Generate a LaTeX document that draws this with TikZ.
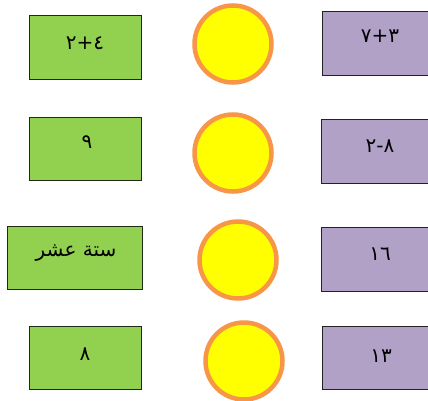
\documentclass[tikz,border=0pt]{standalone}
\usepackage{fontspec}
\newfontfamily\arabicfont[Script=Arabic]{DejaVu Sans}
\TeXXeTstate=1
\definecolor{gfill}{HTML}{92D050}
\definecolor{gdraw}{HTML}{1F2A12}
\definecolor{pfill}{HTML}{B2A1C7}
\definecolor{pdraw}{HTML}{222222}
\definecolor{sunfill}{HTML}{FFFF00}
\definecolor{sundraw}{HTML}{F79646}
\tikzset{
  greenbox/.style={draw=gdraw, fill=gfill, line width=1.2pt, inner sep=0pt, anchor=north west},
  purplebox/.style={draw=pdraw, fill=pfill, line width=1pt, inner sep=0pt, anchor=north west},
  sun/.style={circle, draw=sundraw, fill=sunfill, line width=4.5pt, minimum size=77pt, inner sep=0pt},
  lbl/.style={font=\arabicfont\fontsize{20}{22}\selectfont, inner sep=0pt}
}
\begin{document}
\begin{tikzpicture}[x=1pt,y=-1pt]
\useasboundingbox (0,0) rectangle (428,401);
% green boxes
\node[greenbox, minimum width=112pt, minimum height=64pt] (g1) at (29,15) {};
\node[greenbox, minimum width=112pt, minimum height=63pt] (g2) at (29,117) {};
\node[greenbox, minimum width=135pt, minimum height=63pt] (g3) at (7,226) {};
\node[greenbox, minimum width=112pt, minimum height=63pt] (g4) at (29,326) {};
% purple boxes
\node[purplebox, minimum width=112pt, minimum height=64pt] (p1) at (322,11) {};
\node[purplebox, minimum width=112pt, minimum height=64pt] (p2) at (321,119) {};
\node[purplebox, minimum width=112pt, minimum height=64pt] (p3) at (321,227) {};
\node[purplebox, minimum width=112pt, minimum height=63pt] (p4) at (322,326) {};
% circles
\node[sun] (c1) at (233,44) {};
\node[sun] (c2) at (233,153) {};
\node[sun] (c3) at (238,260) {};
\node[sun] (c4) at (244,361) {};
% labels
\node[lbl] (t1) at (85,43) {٤+٢};
\node[lbl] (t2) at (87,142) {٩};
\node[lbl] (t3) at (76,253) {\beginR ستة عشر\endR};
\node[lbl] (t4) at (85,354) {٨};
\node[lbl] (s1) at (380,36) {٣+٧};
\node[lbl] (s2) at (380,146) {٨-٢};
\node[lbl] (s3) at (380,254) {١٦};
\node[lbl] (s4) at (381,356) {١٣};
\end{tikzpicture}
\end{document}
